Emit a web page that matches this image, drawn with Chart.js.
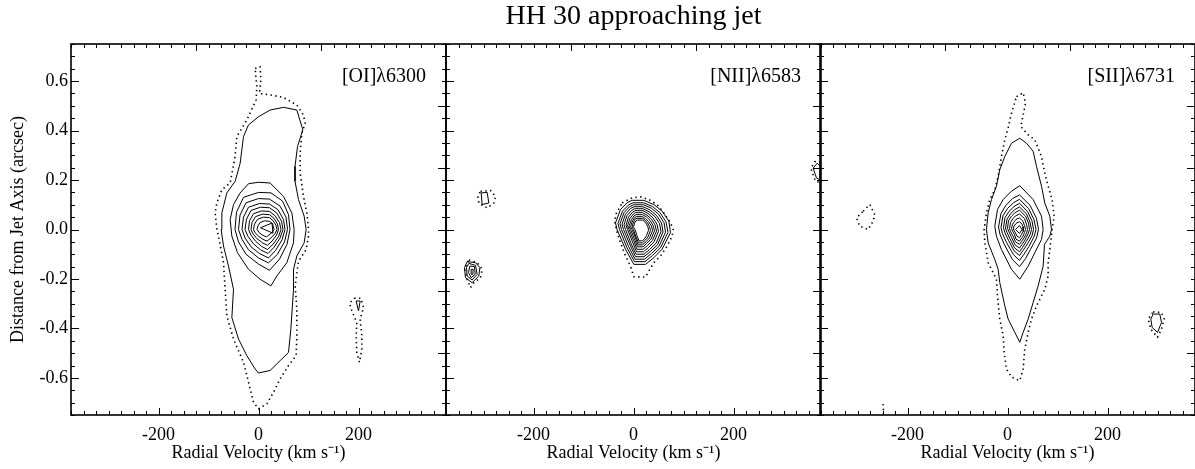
<!DOCTYPE html>
<html><head><meta charset="utf-8">
<script src="https://cdn.jsdelivr.net/npm/chart.js@4.4.1/dist/chart.umd.min.js"></script>
<style>
html,body{margin:0;padding:0;background:#fff;}
body{width:1195px;height:469px;position:relative;overflow:hidden;}
canvas{position:absolute;top:0;}
</style>
</head><body>
<canvas id="c1"></canvas><canvas id="c2"></canvas><canvas id="c3"></canvas>
<script>
// ---------- DATA ----------
const chartTitle = 'HH 30 approaching jet';
const panelNames = ['[OI]λ6300', '[NII]λ6583', '[SII]λ6731'];
const xTitle = 'Radial Velocity (km s⁻¹)';
const yTitle = 'Distance from Jet Axis (arcsec)';
const xTickValues = [-200, 0, 200];
const yTickValues = [-0.6, -0.4, -0.2, 0.0, 0.2, 0.4, 0.6];
const xRange = [-375, 375];
const yRange = [-0.75, 0.75];

// [OI] 6300 : lowest (dotted) level
const oiDotted = [
  [[-6.7,0.651],[3.3,0.658],[4.7,0.604],[2,0.55],[23.3,0.544],[50,0.534],[76.7,0.503],[90,0.463],[93.3,0.43],[86.7,0.389],[83.3,0.309],[83.3,0.228],[90,0.134],[96.7,0.067],[100,0.0],[100,-0.027],[95.3,-0.081],[80,-0.128],[73.3,-0.228],[76.7,-0.322],[76.7,-0.43],[75.3,-0.51],[60,-0.55],[43.3,-0.604],[30,-0.658],[16.7,-0.705],[0,-0.725],[-10,-0.698],[-20,-0.617],[-30,-0.537],[-50,-0.443],[-63.3,-0.349],[-66.7,-0.242],[-70,-0.134],[-80,-0.027],[-83.3,0.0],[-86.7,0.067],[-83.3,0.107],[-73.3,0.161],[-56.7,0.188],[-46.7,0.295],[-43.3,0.376],[-23.3,0.443],[-4.7,0.524],[-3.3,0.577]],
  [[191.3,-0.278],[204.7,-0.278],[210,-0.315],[203.3,-0.362],[206.7,-0.43],[206.7,-0.483],[202,-0.537],[196.7,-0.497],[195.3,-0.43],[196.7,-0.376],[186.7,-0.329],[182,-0.298]]
];
// [OI] 6300 : solid levels
const oiSolid = [
  [[0,0.456],[23.3,0.483],[50,0.494],[76.7,0.483],[88.7,0.403],[78,0.336],[73,0.255],[73,0.195],[80,0.121],[91.3,0.054],[95.3,0.0],[91.3,-0.054],[76.7,-0.107],[70,-0.161],[70,-0.242],[64.7,-0.403],[60,-0.497],[43.3,-0.53],[23.3,-0.57],[0,-0.58],[-6.7,-0.564],[-23.3,-0.51],[-40,-0.443],[-53.3,-0.356],[-50,-0.242],[-60,-0.148],[-70,-0.067],[-74.7,0.0],[-73.3,0.067],[-63.3,0.148],[-46.7,0.195],[-36.7,0.268],[-30,0.376],[-20,0.423]],
  [[-20,0.185],[0,0.191],[23.3,0.188],[50,0.134],[66.7,0.067],[71.3,0.0],[70,-0.054],[56.7,-0.134],[36.7,-0.188],[24.7,-0.228],[3.3,-0.201],[-20,-0.161],[-42,-0.094],[-53.3,-0.027],[-56.7,0.04],[-50,0.101],[-36.7,0.148]],
  [[-30,0.13],[0,0.15],[25,0.148],[48,0.115],[60,0.06],[63,0.0],[57,-0.06],[42,-0.12],[22,-0.165],[0,-0.14],[-25,-0.1],[-40,-0.05],[-47,0.0],[-44,0.07]],
  [[-25,0.108],[0,0.125],[22,0.123],[43,0.095],[55,0.05],[58,0.0],[52,-0.05],[38,-0.1],[20,-0.135],[0,-0.115],[-20,-0.082],[-33,-0.04],[-40,0.0],[-37,0.058]],
  [[-20,0.09],[2,0.105],[22,0.103],[39,0.08],[50,0.04],[53,0.0],[47,-0.042],[34,-0.085],[20,-0.115],[2,-0.097],[-15,-0.07],[-27,-0.034],[-33,0.0],[-30,0.05]],
  [[-15,0.077],[4,0.09],[22,0.088],[36,0.068],[46,0.034],[49,0.0],[43,-0.035],[31,-0.072],[19,-0.097],[4,-0.082],[-10,-0.058],[-21,-0.028],[-27,0.0],[-24,0.042]],
  [[-10,0.064],[6,0.075],[22,0.073],[33,0.056],[42,0.028],[45,0.0],[40,-0.029],[29,-0.06],[18,-0.081],[6,-0.068],[-6,-0.047],[-15,-0.023],[-20,0.0],[-18,0.035]],
  [[-6,0.052],[8,0.062],[22,0.06],[31,0.045],[38,0.022],[40,0.0],[36,-0.023],[27,-0.047],[18,-0.064],[8,-0.054],[-3,-0.037],[-11,-0.018],[-15,0.0],[-13,0.028]],
  [[-2,0.041],[10,0.05],[22,0.048],[29,0.036],[35,0.017],[37,0.0],[33,-0.017],[25,-0.034],[17,-0.047],[9,-0.04],[0,-0.027],[-7,-0.013],[-10,0.0],[-8,0.022]],
  [[3,0.028],[12,0.035],[22,0.033],[28,0.024],[31,0.0],[27,-0.012],[21,-0.022],[16,-0.03],[9,-0.024],[2,-0.014],[-3,0.0],[-1,0.015]],
  [[4,0.007],[27,0.026],[29,-0.015]],
  [[195.3,-0.289],[203.3,-0.289],[200,-0.329]]
];

// [NII] 6583
const niiDotted = [
  [[-22.7,0.108],[-2.7,0.128],[14,0.132],[30.7,0.121],[47.3,0.101],[60.7,0.067],[74,0.027],[79.3,0.0],[77.3,-0.027],[67.3,-0.067],[54,-0.107],[40.7,-0.134],[32.7,-0.161],[24,-0.192],[0.7,-0.191],[-6,-0.148],[-16,-0.107],[-26,-0.054],[-32.7,-0.013],[-38,0.034],[-34,0.067]],
  [[-306,0.154],[-286,0.158],[-276,0.134],[-279.3,0.107],[-292.7,0.087],[-309.3,0.107],[-311.3,0.134]],
  [[-329.3,-0.123],[-312.7,-0.134],[-302.7,-0.161],[-306,-0.195],[-319.3,-0.215],[-326,-0.235],[-332.7,-0.201],[-338,-0.161]],
  [[362,0.275],[375,0.27],[375,0.19],[364,0.195],[355,0.245]]
];
const niiSolid = [
  [[-12.7,0.108],[-2.7,0.118],[20.7,0.118],[40.7,0.101],[57.3,0.074],[70.7,0.034],[74,-0.013],[57,-0.08],[40.7,-0.114],[24,-0.141],[0.7,-0.141],[-16,-0.08],[-33,0.0],[-36,0.027],[-26,0.081]],
  [[-10,0.099],[-1,0.108],[20,0.108],[38,0.093],[53,0.068],[65,0.031],[69,-0.012],[54,-0.074],[38,-0.105],[23,-0.13],[2,-0.13],[-13,-0.074],[-28,0.0],[-31,0.025],[-22,0.074]],
  [[-8,0.092],[0,0.1],[20,0.1],[36,0.086],[50,0.062],[61,0.028],[64,-0.011],[51,-0.068],[36,-0.097],[22,-0.12],[3,-0.12],[-10,-0.068],[-24,0.0],[-27,0.023],[-19,0.068]],
  [[-6,0.085],[1,0.092],[19,0.092],[33,0.079],[46,0.057],[56,0.026],[59,-0.01],[48,-0.062],[34,-0.089],[21,-0.11],[4,-0.11],[-7,-0.062],[-20,0.0],[-23,0.021],[-16,0.062]],
  [[-4,0.077],[2,0.084],[19,0.084],[31,0.072],[43,0.052],[52,0.024],[55,-0.009],[45,-0.056],[32,-0.081],[21,-0.1],[5,-0.1],[-5,-0.056],[-16,0.0],[-19,0.019],[-13,0.056]],
  [[-2,0.07],[3,0.076],[19,0.076],[29,0.065],[39,0.047],[47,0.021],[50,-0.008],[41,-0.05],[30,-0.073],[20,-0.09],[6,-0.09],[-2,-0.05],[-12,0.0],[-15,0.017],[-10,0.05]],
  [[0,0.063],[4,0.068],[18,0.068],[27,0.058],[36,0.042],[43,0.019],[46,-0.007],[38,-0.044],[28,-0.065],[19,-0.08],[7,-0.08],[0,-0.044],[-9,0.0],[-12,0.015],[-7,0.045]],
  [[1,0.055],[5,0.06],[18,0.06],[26,0.051],[33,0.037],[39,0.017],[42,-0.006],[35,-0.039],[26,-0.057],[19,-0.07],[8,-0.07],[2,-0.039],[-6,0.0],[-9,0.013],[-4,0.04]],
  [[2,0.048],[6,0.052],[18,0.052],[24,0.044],[30,0.032],[36,0.014],[38,-0.005],[32,-0.034],[25,-0.05],[18,-0.062],[9,-0.062],[4,-0.034],[-3,0.0],[-6,0.011],[-2,0.035]],
  [[3,0.042],[7,0.045],[18,0.045],[23,0.038],[28,0.027],[32,0.012],[34,-0.004],[29,-0.03],[23,-0.044],[18,-0.054],[10,-0.054],[5,-0.03],[0,0.0],[-3,0.01],[0,0.03]],
  [[5,0.035],[8,0.038],[18,0.038],[22,0.032],[26,0.022],[29,0.01],[30,-0.003],[26,-0.025],[22,-0.037],[18,-0.046],[11,-0.046],[7,-0.025],[3,0.0],[0,0.009],[2,0.026]],
  [[-304.7,0.148],[-292.7,0.15],[-289.3,0.107],[-302.7,0.101]],
  [[-332.7,-0.13],[-316,-0.134],[-307.3,-0.154],[-309.3,-0.188],[-322.7,-0.215],[-336,-0.195],[-338,-0.154]],
  [[-329.3,-0.137],[-316,-0.145],[-312.7,-0.181],[-322.7,-0.204],[-332.7,-0.188],[-334,-0.154]],
  [[-327.3,-0.148],[-318,-0.15],[-316.7,-0.181],[-324.7,-0.195],[-330,-0.174]],
  [[-324.7,-0.161],[-320.7,-0.161],[-321.3,-0.181],[-324.7,-0.181]],
  [[367.3,0.268],[374,0.255],[372.7,0.201],[366,0.208],[359.3,0.248]]
];

// [SII] 6731
const siiDotted = [
  [[18,0.537],[31.3,0.553],[36,0.51],[31.3,0.463],[26.6,0.416],[41.3,0.383],[54.6,0.363],[67.9,0.295],[74.6,0.228],[81.3,0.175],[89.3,0.121],[93.3,0.054],[89.3,0.0],[87.9,-0.027],[84.6,-0.081],[81.3,-0.134],[81.3,-0.188],[74.6,-0.242],[58,-0.309],[48,-0.362],[41.3,-0.416],[34.6,-0.483],[31.3,-0.564],[24.6,-0.611],[7.9,-0.597],[-2.1,-0.564],[-6.7,-0.497],[-8.7,-0.43],[-15.4,-0.362],[-20.1,-0.268],[-22.1,-0.201],[-38.7,-0.134],[-45.4,-0.054],[-46.7,0.0],[-42.1,0.067],[-35.4,0.121],[-25.4,0.161],[-18.7,0.215],[-12.1,0.295],[-5.4,0.363],[1.3,0.41],[7.9,0.47]],
  [[-288.7,0.074],[-275.4,0.101],[-265.4,0.06],[-268.7,0.034],[-278.7,0.0],[-295.4,0.013],[-302,0.047]],
  [[291.3,-0.333],[308,-0.336],[313.3,-0.362],[308,-0.403],[300,-0.436],[286.6,-0.403],[281.3,-0.362]]
];
const siiOpenDotted = [
  [[-248.7,-0.75],[-248,-0.72],[-249.5,-0.695]]
];
const siiSolid = [
  [[24.6,0.369],[38,0.349],[51.3,0.316],[58,0.255],[68,0.175],[74.6,0.107],[84.6,0.054],[88,0.0],[84.6,-0.027],[74,-0.06],[71.3,-0.148],[61.3,-0.228],[51.3,-0.295],[41.3,-0.362],[31.3,-0.416],[24.6,-0.456],[14.6,-0.416],[1.3,-0.362],[-5.4,-0.309],[-15.4,-0.215],[-18.7,-0.161],[-25.4,-0.121],[-38.7,-0.054],[-42.1,0.0],[-38.7,0.067],[-32.1,0.121],[-22.1,0.175],[-15.4,0.242],[-5.4,0.295],[8,0.349]],
  [[24.6,0.177],[51.3,0.121],[68,0.054],[71.3,0.0],[68,-0.04],[54.6,-0.094],[41.3,-0.148],[24.6,-0.201],[7.9,-0.161],[-12.1,-0.081],[-22.1,-0.027],[-25.4,0.013],[-20,0.081],[-8.7,0.121],[7.9,0.155]],
  [[24,0.14],[45,0.098],[58,0.045],[62,0.0],[58,-0.035],[46,-0.08],[36,-0.118],[24,-0.15],[10,-0.122],[-6,-0.062],[-15,-0.02],[-18,0.01],[-13,0.065],[-3,0.098],[10,0.125]],
  [[24,0.122],[42,0.085],[53,0.04],[57,0.0],[53,-0.03],[43,-0.068],[33,-0.1],[24,-0.125],[12,-0.102],[-2,-0.052],[-10,-0.017],[-13,0.008],[-9,0.056],[0,0.085],[12,0.108]],
  [[24,0.106],[40,0.073],[49,0.035],[52,0.0],[49,-0.026],[40,-0.058],[31,-0.085],[24,-0.105],[13,-0.086],[2,-0.044],[-5,-0.014],[-8,0.007],[-5,0.048],[3,0.073],[13,0.093]],
  [[24,0.091],[38,0.063],[45,0.03],[48,0.0],[45,-0.022],[37,-0.05],[30,-0.073],[24,-0.09],[14,-0.074],[5,-0.038],[-1,-0.012],[-4,0.006],[-1,0.041],[6,0.063],[14,0.08]],
  [[24,0.078],[36,0.054],[42,0.026],[44,0.0],[41,-0.018],[35,-0.042],[29,-0.061],[24,-0.075],[15,-0.062],[8,-0.032],[3,-0.01],[0,0.005],[2,0.035],[8,0.054],[15,0.068]],
  [[24,0.063],[34,0.044],[38,0.021],[40,0.0],[38,-0.015],[33,-0.034],[28,-0.049],[24,-0.06],[16,-0.05],[11,-0.026],[6,-0.008],[4,0.004],[6,0.028],[11,0.044],[16,0.055]],
  [[24,0.047],[31,0.033],[34,0.016],[36,0.0],[34,-0.012],[31,-0.027],[27,-0.038],[24,-0.047],[17,-0.039],[14,-0.02],[10,-0.006],[8,0.003],[10,0.021],[14,0.033],[17,0.041]],
  [[24,0.031],[29,0.022],[31,0.011],[32,0.0],[31,-0.008],[28,-0.019],[26,-0.027],[24,-0.033],[19,-0.027],[16,-0.014],[13,-0.004],[12,0.002],[13,0.014],[16,0.022],[19,0.027]],
  [[24,0.016],[29,0.0],[24,-0.016],[16,0.0]],
  [[291.3,-0.342],[304.6,-0.342],[308,-0.376],[300,-0.416],[289.3,-0.396],[286.6,-0.362]]
];

// ---------- RENDERING ----------
const FONT = '"Liberation Serif", "Times New Roman", Times, serif';

function lineSet(pts, dotted, closed) {
  const ring = closed ? pts.concat([pts[0]]) : pts;
  return {
    data: ring.map(p => ({x: p[0], y: p[1]})),
    showLine: true, pointRadius: 0, pointHoverRadius: 0, fill: false, tension: 0,
    borderColor: '#000', backgroundColor: '#000',
    borderWidth: dotted ? 1.6 : 1,
    borderDash: dotted ? [1.4, 3.4] : [],
    borderCapStyle: 'butt', borderJoinStyle: 'round'
  };
}
function buildSets(dotted, solid, openDotted) {
  const out = [];
  dotted.forEach(p => out.push(lineSet(p, true, true)));
  (openDotted || []).forEach(p => out.push(lineSet(p, true, false)));
  solid.forEach(p => out.push(lineSet(p, false, true)));
  return out;
}

const frameTicks = {
  id: 'frameTicks',
  afterDatasetsDraw(chart, args, opts) {
    const {ctx, chartArea: a} = chart;
    const x = chart.scales.x, y = chart.scales.y;
    ctx.save();
    ctx.strokeStyle = '#000';
    ctx.lineWidth = 1;
    ctx.beginPath();
    for (let i = -15; i <= 15; i++) {           // every 25 km/s
      const v = i * 25;
      const px = Math.round(x.getPixelForValue(v)) + 0.5;
      const bottomMajor = xTickValues.includes(v);
      const topMajor = (v === -125 || v === 125);
      ctx.moveTo(px, a.bottom); ctx.lineTo(px, a.bottom - (bottomMajor ? 7 : 4));
      ctx.moveTo(px, a.top); ctx.lineTo(px, a.top + (topMajor ? 7 : 4));
    }
    for (let i = -15; i <= 15; i++) {           // every 0.05 arcsec
      const v = i * 0.05;
      const py = Math.round(y.getPixelForValue(v)) + 0.5;
      const leftMajor = (i % 4 === 0) && Math.abs(i) <= 12;
      const rightMajor = (i % 5 === 0) && Math.abs(i) < 15;
      ctx.moveTo(a.left, py); ctx.lineTo(a.left + (leftMajor ? 8 : 4), py);
      ctx.moveTo(a.right, py); ctx.lineTo(a.right - (rightMajor ? 8 : 4), py);
    }
    ctx.stroke();
    ctx.lineWidth = 1.6;
    ctx.strokeRect(a.left, a.top, a.right - a.left, a.bottom - a.top);
    ctx.fillStyle = '#000';
    ctx.font = '20px ' + FONT;
    ctx.textAlign = 'right';
    ctx.textBaseline = 'alphabetic';
    ctx.fillText(opts.label, a.right - 20, a.top + 38);
    ctx.restore();
  }
};

function makePanel(id, left, width, padding, idx, sets, showY, showTitle) {
  const el = document.getElementById(id);
  el.width = width; el.height = 469;
  el.style.left = left + 'px'; el.style.width = width + 'px'; el.style.height = '469px';
  return new Chart(el, {
    type: 'scatter',
    data: {datasets: sets},
    options: {
      responsive: false, animation: false, devicePixelRatio: 1, events: [],
      layout: {padding: padding},
      plugins: {
        legend: {display: false}, tooltip: {enabled: false},
        title: {display: showTitle, text: chartTitle, color: '#000',
                font: {family: FONT, size: 28, weight: 'normal'}, padding: {top: 0, bottom: 10.4}},
        frameTicks: {label: panelNames[idx]}
      },
      scales: {
        x: {
          type: 'linear', position: 'bottom', min: xRange[0], max: xRange[1],
          afterBuildTicks: s => { s.ticks = xTickValues.map(v => ({value: v})); },
          afterFit: s => { s.height = 54; },
          grid: {display: false, drawTicks: false}, border: {display: false},
          ticks: {color: '#000', font: {family: FONT, size: 18}, padding: 9, maxRotation: 0,
                  autoSkip: false, callback: v => String(v)},
          title: {display: true, text: xTitle, color: '#000', font: {family: FONT, size: 18},
                  padding: {top: 0, bottom: 5}}
        },
        y: {
          type: 'linear', display: showY, min: yRange[0], max: yRange[1],
          afterBuildTicks: s => { s.ticks = yTickValues.map(v => ({value: v})); },
          afterFit: s => { s.width = showY ? 71 : 0; },
          grid: {display: false, drawTicks: false}, border: {display: false},
          ticks: {color: '#000', font: {family: FONT, size: 18}, padding: 3, autoSkip: false,
                  callback: v => Number(v).toFixed(1)},
          title: {display: true, text: yTitle, color: '#000', font: {family: FONT, size: 18},
                  padding: {top: 7, bottom: 0}}
        }
      }
    },
    plugins: [frameTicks]
  });
}

makePanel('c1', 0, 450, {left: 0, right: 4, top: 44, bottom: 0}, 0,
          buildSets(oiDotted, oiSolid), true, false);
makePanel('c2', 442, 383, {left: 4, right: 4, top: 0, bottom: 0}, 1,
          buildSets(niiDotted, niiSolid), false, true);
makePanel('c3', 816, 383, {left: 4, right: 4, top: 44, bottom: 0}, 2,
          buildSets(siiDotted, siiSolid, siiOpenDotted), false, false);
</script>
</body></html>
